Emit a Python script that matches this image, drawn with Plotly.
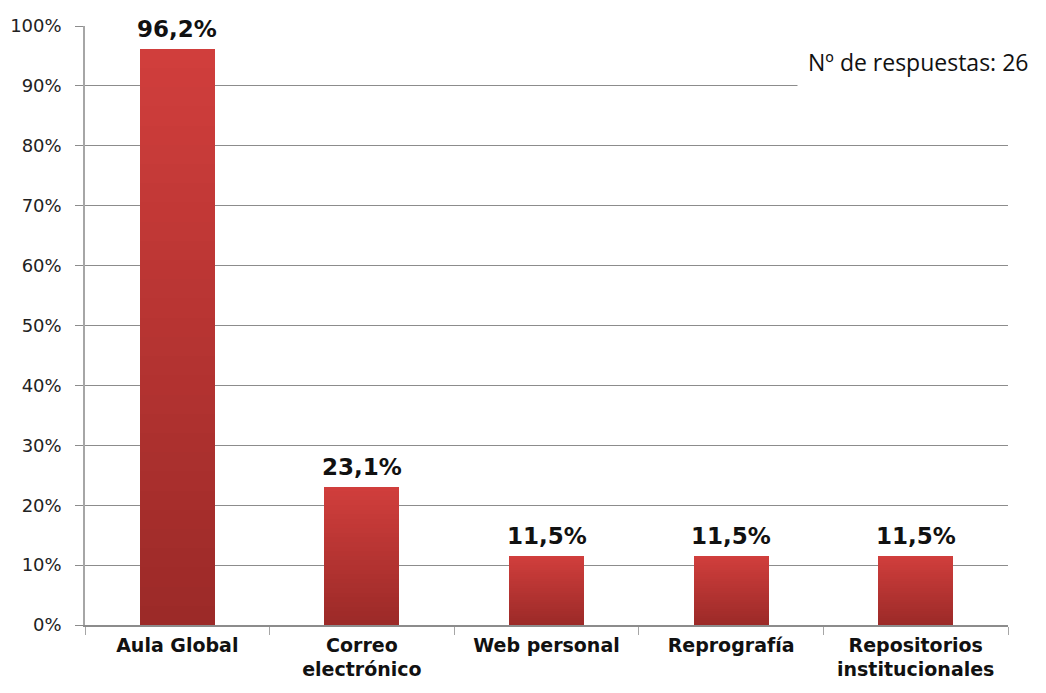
import plotly.graph_objects as go

categorias = ["Aula Global", "Correo<br>electrónico", "Web personal", "Reprografía", "Repositorios<br>institucionales"]
porcentajes = [0.962, 0.231, 0.115, 0.115, 0.115]
etiquetas = ["96,2%", "23,1%", "11,5%", "11,5%", "11,5%"]
nota = "Nº de respuestas: 26"

# degradado vertical de cada barra: se apilan tramos iguales de cada barra
top_rgb = (208, 62, 60)
bot_rgb = (156, 42, 40)
n_tramos = 30

fig = go.Figure()
for i in range(n_tramos):
    t = i / (n_tramos - 1)
    c = tuple(round(b + (a - b) * t) for a, b in zip(top_rgb, bot_rgb))
    fig.add_trace(go.Bar(
        x=categorias,
        y=[v / n_tramos for v in porcentajes],
        marker=dict(color="rgb(%d,%d,%d)" % c, line=dict(width=0)),
        showlegend=False,
        hoverinfo="skip",
    ))

for cat, v, txt in zip(categorias, porcentajes, etiquetas):
    fig.add_annotation(
        x=cat, y=v, text="<b>%s</b>" % txt, showarrow=False,
        yanchor="bottom", yshift=1, bgcolor="white", borderpad=5,
        font=dict(family="DejaVu Sans", size=23, color="#111111"),
    )

fig.add_annotation(
    xref="paper", yref="paper", x=1.0335, y=0.94, xanchor="right", yanchor="middle",
    text=nota, showarrow=False, borderpad=10, align="right",
    bgcolor="white", font=dict(family="Open Sans", size=23, color="#111111"),
)

# la página añade 8 px de margen al cuerpo
fig.update_layout(
    width=1030, height=677,
    margin=dict(l=77, r=30, t=18, b=60),
    barmode="stack", bargap=0.594,
    plot_bgcolor="white", paper_bgcolor="white",
    font=dict(family="DejaVu Sans", color="#222222"),
)
fig.update_yaxes(
    range=[0, 1], dtick=0.1, tickformat=".0%", automargin=False,
    showgrid=True, gridcolor="#8c8c8c", gridwidth=1,
    showline=True, linecolor="#a6a6a6", linewidth=1.5,
    ticks="outside", ticklen=8, tickcolor="#8c8c8c", ticklabelstandoff=10,
    tickfont=dict(size=18), zeroline=False,
)
fig.update_xaxes(
    automargin=False,
    showgrid=False, showline=True, linecolor="#8c8c8c", linewidth=1.5,
    ticks="outside", ticklen=8, tickcolor="#a6a6a6", tickson="boundaries",
    ticklabelstandoff=2,
    tickfont=dict(size=19, family="DejaVu Sans", color="#111111"),
    tickprefix="<b>", ticksuffix="</b>",
)

fig.write_html("out.html")
